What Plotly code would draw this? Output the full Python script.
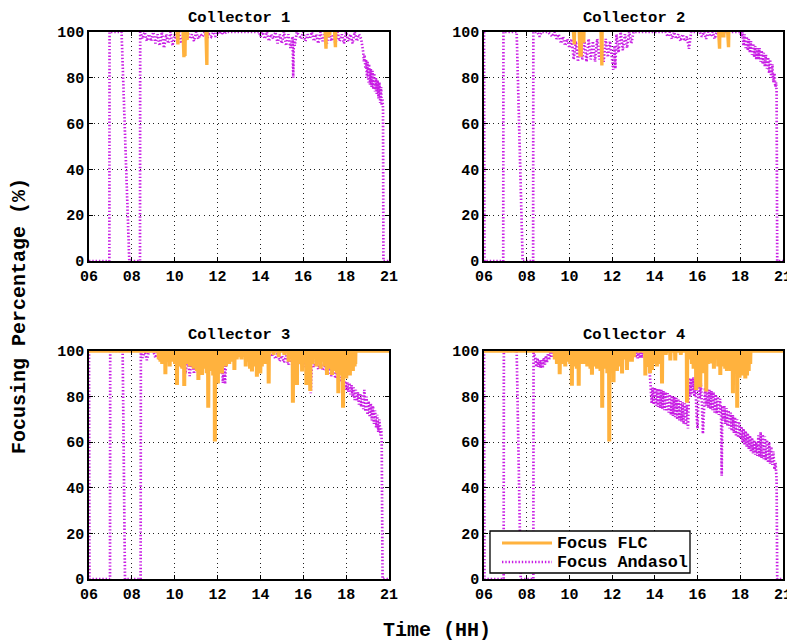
import plotly.graph_objects as go

# ---------------- data (hours, percent) ----------------
x_tick_vals = [6, 8, 10, 12, 14, 16, 18, 20]
x_tick_text = ['06', '08', '10', '12', '14', '16', '18', '21']
y_tick_vals = [0, 20, 40, 60, 80, 100]
titles = ['Collector 1', 'Collector 2', 'Collector 3', 'Collector 4']
legend_labels = ['Focus FLC', 'Focus Andasol']

andasol_c1 = [[6.0,0],[6.95,0],[6.96,100],[7.52,100],[7.88,0],[8.38,0],[8.39,100],
 [8.5,97],[8.6,100],[8.7,96],[8.8,99],[8.9,96],[9.0,100],[9.1,95],[9.2,99],[9.3,94],[9.4,100],[9.5,93],[9.6,99],[9.7,95],[9.8,100],[9.9,94],[10.0,99],[10.1,96],[10.2,100],[10.3,95],[10.4,99],[10.5,96],[10.6,100],[10.7,97],[10.8,99],[10.9,96],[11.0,100],[11.1,97],[11.2,99],[11.3,98],[11.4,100],[11.5,97],[11.6,99],[11.7,98],[11.8,100],[11.9,98],[12.0,100],[12.1,99],[12.2,100],[12.3,99],[12.4,100],
 [13.95,100],[14.0,98],[14.1,100],[14.2,97],[14.3,100],[14.4,96],[14.5,99],[14.6,97],[14.7,100],[14.8,95],[14.9,99],[15.0,95],[15.1,100],[15.2,94],[15.3,99],[15.4,93],[15.5,98],[15.53,80],[15.56,97],[15.6,94],[15.7,100],
 [15.9,97],[16.0,100],[16.1,96],[16.2,99],[16.3,97],[16.4,100],[16.5,96],[16.6,99],[16.7,95],[16.8,100],[16.9,96],[17.0,99],[17.1,95],[17.2,100],[17.3,96],[17.4,99],[17.5,95],[17.6,100],[17.7,96],[17.8,99],[17.9,95],[18.0,100],[18.1,96],[18.2,99],[18.3,95],[18.4,100],[18.5,96],[18.6,99],[18.7,97],[18.78,93],
 [18.8,91],[18.83,87],[18.86,90],[18.9,84],[18.93,88],[18.97,80],[19.0,87],[19.04,78],[19.07,86],[19.11,77],[19.15,84],[19.19,76],[19.23,83],[19.27,75],[19.31,82],[19.35,74],[19.39,80],[19.43,73],[19.47,79],[19.51,71],[19.55,78],[19.59,69],[19.63,76],[19.66,68],[19.69,71],[19.72,67],[19.74,0],[20.0,0]]

andasol_c2 = [[6.0,100],[6.02,0],[6.9,0],[6.91,100],[7.53,100],[7.81,0],[8.3,0],[8.31,100],[8.5,100],[8.6,98],[8.7,100],[9.0,100],
 [9.1,99],[9.2,98],[9.3,100],[9.4,97],[9.5,99],[9.6,95],[9.7,98],[9.8,94],[9.9,97],[10.0,93],[10.1,97],[10.2,88],[10.3,96],[10.4,87],[10.5,97],[10.6,88],[10.7,96],[10.8,87],[10.9,97],[11.0,88],[11.1,96],[11.2,87],[11.3,97],[11.4,88],[11.5,96],[11.6,87],[11.7,97],[11.8,89],[11.9,96],[12.0,86],[12.05,83.5],[12.1,94],[12.15,84],[12.2,99],[12.3,91],[12.4,100],[12.5,92],[12.6,99],[12.7,93],[12.8,100],[12.9,95],[13.0,100],
 [14.5,100],[14.6,98],[14.7,100],[14.8,97],[14.9,100],[15.0,97],[15.1,99],[15.2,96],[15.3,99],[15.4,96],[15.5,98],[15.6,92.7],[15.7,100],
 [16.1,100],[16.2,98],[16.3,100],[16.4,97],[16.5,100],[16.6,98],[16.7,100],[16.8,97],[16.9,100],[17.0,98],[17.1,100],[18.0,100],
 [18.05,98],[18.1,100],[18.15,94],[18.2,99],[18.25,93],[18.3,98],[18.35,92],[18.4,97],[18.45,91],[18.5,96],[18.55,90],[18.6,95],[18.65,89],[18.7,94],[18.75,88],[18.8,93],[18.85,88],[18.9,93],[18.95,87],[19.0,92],[19.05,86],[19.1,91],[19.15,85],[19.2,90],[19.25,84],[19.3,89],[19.35,82],[19.4,88],[19.45,80],[19.5,86],[19.55,78],[19.6,82],[19.64,76],[19.68,78],[19.7,74],[19.73,0],[20.0,0]]

andasol_c3 = [[6.0,100],[6.02,0],[6.98,0],[6.99,100],[7.57,100],[7.68,0],[8.41,0],[8.42,100],[8.5,97],[8.6,100],[8.7,96],[8.8,100],[9.0,100],
 [9.1,97],[9.2,100],[9.3,96],[9.4,100],[9.5,97],[9.6,100],[9.7,96],[9.8,99],[9.9,96],[10.0,99],[10.1,96],[10.2,100],[10.3,93],[10.4,99],[10.5,90],[10.6,98],[10.7,89],[10.8,97],[10.9,90],[11.0,98],[11.1,89],[11.2,97],[11.3,92],[11.4,98],[11.5,93],[11.6,99],[11.7,92],[11.8,98],[11.9,93],[12.0,99],[12.1,90],[12.2,97],[12.25,86],[12.3,95],[12.35,85.5],[12.4,98],[12.5,96],[12.6,100],[12.7,97],[12.8,100],[14.2,100],
 [14.3,98.5],[14.4,100],[14.5,97.5],[14.6,99],[14.7,96.5],[14.8,99],[14.9,95.5],[15.0,98],[15.1,95],[15.2,98],[15.3,94],[15.4,97],[15.5,93.4],[15.6,97],[15.7,93],[15.8,97],[15.9,94],[16.0,97],[16.1,93],[16.2,96],[16.25,85],[16.3,95],[16.35,81.5],[16.4,96],[16.5,93],[16.6,96],[16.7,92],[16.8,95.5],[16.9,91.5],[17.0,94],[17.1,90],[17.2,93.5],[17.3,89],[17.4,92.5],[17.5,88],[17.6,91.5],[17.7,86.5],[17.8,90.5],[17.9,86],
 [17.95,87],[18.0,83],[18.05,86.5],[18.1,82],[18.15,86],[18.2,81],[18.25,85],[18.3,80],[18.35,84],[18.4,78.5],[18.45,83],[18.5,78],[18.55,82],[18.6,76.5],[18.65,81.5],[18.7,75.5],[18.75,81],[18.8,74.5],[18.85,83],[18.9,73.5],[18.95,80],[19.0,72],[19.05,78],[19.1,71],[19.15,77],[19.2,69.5],[19.25,76],[19.3,68],[19.35,74],[19.4,66.5],[19.45,72],[19.5,64.5],[19.55,70],[19.6,63],[19.64,66],[19.66,61],[19.7,0],[20.0,0]]

andasol_c4 = [[6.0,100],[6.02,0],[6.92,0],[6.93,100],[7.53,100],[7.72,0],[8.31,0],[8.32,100],
 [8.4,97],[8.45,93],[8.5,97],[8.55,93],[8.6,96],[8.65,92.5],[8.7,96],[8.75,92.5],[8.8,97],[8.85,94],[8.9,98],[8.95,95],[9.0,99],[9.05,96],[9.1,100],[9.15,97],[9.2,100],[9.25,100],
 [13.05,100],[13.1,97],[13.15,100],[13.2,96.8],[13.25,100],[13.3,96.8],[13.35,100],[13.4,97],[13.45,100],[13.7,100],[13.75,90],[13.77,86],
 [13.8,84.5],[13.85,77],[13.9,84],[13.95,76.5],[14.0,84],[14.05,76],[14.1,83.5],[14.15,75.5],[14.2,83.5],[14.25,75],[14.3,83],[14.35,74.5],[14.4,82.5],[14.45,74],[14.5,82],[14.55,73.5],[14.6,81.5],[14.65,73],[14.7,81],[14.75,72],[14.8,80.5],[14.85,71.5],[14.9,80],[14.95,71],[15.0,79.5],[15.05,70],[15.1,79],[15.15,69.5],[15.2,78],[15.25,69],[15.3,77.5],[15.35,68],[15.4,77],[15.45,67.5],[15.5,76.5],[15.55,66],[15.58,75],
 [15.6,88.3],[15.65,80],[15.7,88],[15.75,81],[15.8,88.5],[15.85,80],[15.9,87.5],[15.95,72],[16.0,66],[16.05,86],[16.1,79],[16.15,86],[16.2,78],[16.25,63.7],[16.3,77],[16.35,84],[16.4,76],[16.45,83.5],[16.5,75],[16.55,83],[16.6,74.5],[16.65,82.5],[16.7,74],[16.75,82],[16.8,73],[16.85,81],[16.9,72.5],[16.95,80],[17.0,72],[17.05,79],[17.1,71.6],[17.13,45.3],[17.16,76],[17.2,70],[17.25,76],[17.3,68],[17.35,75],[17.4,67],[17.45,74],[17.5,66],[17.55,73],[17.6,65],[17.65,72],[17.7,64],[17.75,71],[17.8,63],[17.85,70],[17.9,62],[17.95,69],[18.0,61.5],[18.05,67],[18.1,60],[18.15,66],[18.2,59],[18.25,65],[18.3,58],[18.35,64],[18.4,57],[18.45,63],[18.5,56],[18.55,62],[18.6,55],[18.65,61],[18.7,54.5],[18.75,60],[18.8,54],[18.85,63],[18.9,53.5],[18.95,64.5],[19.0,53],[19.05,63.5],[19.1,52.5],[19.15,62.5],[19.2,52],[19.25,61],[19.3,51],[19.35,60],[19.4,50.5],[19.45,58],[19.5,50],[19.55,56],[19.6,48],[19.65,51],[19.7,44],[19.73,0],[20.0,0]]

# FLC: sits at 100 %, dips listed as [hour, percent]
flc_dips_c1 = [[10.12,94.6],[10.4,89],[10.45,89.5],[10.5,96.5],[10.55,96.5],[11.47,85.6],[17.03,92.7],[17.15,98.5],[17.2,98.5],[17.47,93.4]]
flc_dips_c2 = [[10.2,94.6],[10.47,89.2],[10.52,89.2],[10.58,96],[10.64,96],[11.49,85.4],[17.0,92.7],[17.14,98.3],[17.2,98.3],[17.42,93.4]]
flc_dips_c3 = [[9.24,97],[9.32,96],[9.4,95],[9.48,97],[9.55,90.6],[9.65,96],[9.75,93.9],[9.82,96],[9.9,97],[10.0,95],[10.09,85.8],[10.17,94],[10.25,96],[10.34,93],[10.43,85.4],[10.52,95],[10.6,97],[10.7,94],[10.79,96],[10.87,93],[10.95,94],[11.02,92],[11.09,88],[11.18,93],[11.26,90.2],[11.33,93],[11.4,95],[11.48,91],[11.55,75.9],[11.62,92],[11.7,93],[11.78,90],[11.86,61],[11.93,92],[12.0,86.5],[12.1,92],[12.19,90.9],[12.3,96],[12.38,94],[12.45,96],[12.53,95],[12.6,97],[12.68,96],[12.77,92.4],[12.88,97],[13.0,98],[13.1,97],[13.2,98.2],[13.3,94],[13.4,96],[13.5,93],[13.59,91.7],[13.7,94],[13.82,89.5],[13.9,93],[13.98,90.9],[14.05,94],[14.1,97],[14.2,95],[14.37,86.5],[14.6,99],[14.84,98],[15.1,99],[15.3,96],[15.5,78],[15.6,94],[15.69,85.8],[15.8,95],[15.93,91.7],[16.05,96],[16.13,85.8],[16.22,94],[16.31,83.2],[16.4,95],[16.5,97],[16.6,94],[16.7,95.3],[16.8,93],[16.9,96],[17.0,94],[17.09,90.2],[17.2,94],[17.27,93],[17.33,90.2],[17.42,92],[17.5,93],[17.56,91],[17.62,82.2],[17.7,91],[17.77,90],[17.84,75.9],[17.92,90],[17.99,88.7],[18.05,90],[18.1,91],[18.16,90],[18.21,91.7],[18.3,92],[18.38,94],[18.41,95]]
flc_dips_c4 = [[9.3,97],[9.4,95],[9.53,90.6],[9.65,96],[9.72,95],[9.79,93.9],[9.87,96],[9.95,97],[10.02,95],[10.1,85.5],[10.18,94],[10.25,96],[10.33,93],[10.42,85.5],[10.49,95],[10.55,97],[10.64,95],[10.73,96],[10.82,94],[10.9,95],[10.97,93],[11.04,90.3],[11.12,94],[11.2,95],[11.28,93],[11.35,94],[11.44,92],[11.52,75.9],[11.6,93],[11.68,93],[11.76,91],[11.85,61],[11.95,92],[12.05,87],[12.13,93],[12.21,92],[12.3,96],[12.38,94],[12.45,90.9],[12.57,97],[12.68,92.4],[12.8,96],[12.91,96],[13.0,98],[13.54,90],[13.6,94],[13.65,93],[13.7,95],[13.76,91],[13.85,92.4],[13.92,95],[14.0,96],[14.08,94],[14.15,95],[14.32,86.5],[14.5,99],[14.71,96.6],[14.94,96.6],[15.2,99],[15.49,78],[15.64,97],[15.72,95],[15.8,93],[15.92,83.6],[16.0,95],[16.11,84.8],[16.18,94],[16.25,91],[16.32,95],[16.39,83],[16.47,95],[16.55,96],[16.66,95.3],[16.75,93],[16.85,97],[16.95,94],[17.05,90.2],[17.12,94],[17.18,95],[17.28,93],[17.36,92],[17.45,96],[17.55,92],[17.64,82.2],[17.74,91],[17.84,75.9],[17.95,89],[18.05,90],[18.14,91],[18.22,88.7],[18.3,90],[18.38,92],[18.45,95]]

# ---------------- styling ----------------
FONT = 'Liberation Mono, Courier New, monospace'
PURPLE = '#C81EE4'
ORANGE = '#FFB23E'
PURPLE_DASH = '1.4px,1.9px'


def flc_path(dips, continuous):
    xs, ys = [], []
    if continuous:
        xs.append(6.0); ys.append(100)
    prev = None
    for t, v in dips:
        if not continuous and prev is not None and t - prev > 0.2:
            xs.append(None); ys.append(None)
        xs += [t - 0.01, t, t + 0.03, t + 0.04]
        ys += [100, v, v, 100]
        prev = t
    if continuous:
        xs.append(20.0); ys.append(100)
    return xs, ys


panels = [(andasol_c1, flc_dips_c1, False), (andasol_c2, flc_dips_c2, False),
          (andasol_c3, flc_dips_c3, True), (andasol_c4, flc_dips_c4, True)]

# page body has an 8 px margin: figure is 787x635 placed at (8, 8) of the window
OFF = 8
W, H = 795 - OFF, 643 - OFF


def px(xw):
    return (xw - OFF) / W


def py(yw):
    return 1 - (yw - OFF) / H


x_dom = [[px(89), px(389)], [px(484), px(783)]]
y_dom = [[py(261), py(32)], [py(579), py(351)]]

fig = go.Figure()
for i, (adata, dips, cont) in enumerate(panels):
    xa = 'x' if i == 0 else f'x{i+1}'
    ya = 'y' if i == 0 else f'y{i+1}'
    fig.add_trace(go.Scatter(
        x=[p[0] for p in adata], y=[p[1] for p in adata], mode='lines',
        line=dict(color=PURPLE, width=2.7, dash=PURPLE_DASH),
        name=legend_labels[1], showlegend=False,
        xaxis=xa, yaxis=ya, hoverinfo='skip'))
    fx, fy = flc_path(dips, cont)
    fig.add_trace(go.Scatter(
        x=fx, y=fy, mode='lines', connectgaps=False,
        line=dict(color=ORANGE, width=3.4),
        name=legend_labels[0], showlegend=False,
        xaxis=xa, yaxis=ya, hoverinfo='skip'))

tickfont = dict(family=FONT, size=15, color='black', weight='bold')
axis_common = dict(ticks='inside', ticklen=4, tickwidth=1, tickcolor='black',
                   showline=True, linecolor='black', linewidth=1.6, mirror='ticks',
                   showgrid=True, gridcolor='#222222', gridwidth=1, griddash='1px,3.6px',
                   zeroline=False, tickfont=tickfont, fixedrange=True, automargin=False)

layout = dict(width=W, height=H, margin=dict(l=0, r=0, t=0, b=0, autoexpand=False),
              paper_bgcolor='white', plot_bgcolor='white', showlegend=False)
for i in range(4):
    col, row = i % 2, i // 2
    xk = 'xaxis' if i == 0 else f'xaxis{i+1}'
    yk = 'yaxis' if i == 0 else f'yaxis{i+1}'
    yid = 'y' if i == 0 else f'y{i+1}'
    xid = 'x' if i == 0 else f'x{i+1}'
    layout[xk] = dict(domain=x_dom[col], anchor=yid, range=[6, 20],
                      tickvals=x_tick_vals, ticktext=x_tick_text, **axis_common)
    layout[yk] = dict(domain=y_dom[row], anchor=xid, range=[0, 100],
                      tickvals=y_tick_vals, **axis_common)

annotations = []
for i, t in enumerate(titles):
    col, row = i % 2, i // 2
    annotations.append(dict(text=t, x=sum(x_dom[col]) / 2, y=py(18 if row == 0 else 335),
                            xref='paper', yref='paper', showarrow=False, borderpad=0,
                            xanchor='center', yanchor='middle',
                            font=dict(family=FONT, size=15.5, color='black', weight='bold')))
annotations.append(dict(text='Focusing Percentage (%)', x=px(20), y=py(316), xref='paper', yref='paper',
                        showarrow=False, textangle=-90, xanchor='center', yanchor='middle',
                        font=dict(family=FONT, size=20, color='black', weight='bold')))
annotations.append(dict(text='Time (HH)', x=px(437), y=py(630), xref='paper', yref='paper',
                        showarrow=False, xanchor='center', yanchor='middle',
                        font=dict(family=FONT, size=20, color='black', weight='bold')))

# legend box drawn in the lower-right panel (as in the reference)
leg_rows = [py(543), py(562)]
shapes = [
    dict(type='rect', xref='paper', yref='paper', x0=px(490), x1=px(690), y0=py(573), y1=py(531),
         line=dict(color='black', width=1.3), fillcolor='white', layer='above'),
    dict(type='line', xref='paper', yref='paper', x0=px(502), x1=px(552), y0=leg_rows[0], y1=leg_rows[0],
         line=dict(color=ORANGE, width=3.2), layer='above'),
    dict(type='line', xref='paper', yref='paper', x0=px(502), x1=px(552), y0=leg_rows[1], y1=leg_rows[1],
         line=dict(color=PURPLE, width=2.7, dash=PURPLE_DASH), layer='above'),
]
for lab, yy in zip(legend_labels, leg_rows):
    annotations.append(dict(text=lab, x=px(556), y=yy, xref='paper', yref='paper', showarrow=False,
                            xanchor='left', yanchor='middle', borderpad=0,
                            font=dict(family=FONT, size=16.8, color='black', weight='bold')))
layout['annotations'] = annotations
layout['shapes'] = shapes
fig.update_layout(**layout)
fig.write_html('out.html')
